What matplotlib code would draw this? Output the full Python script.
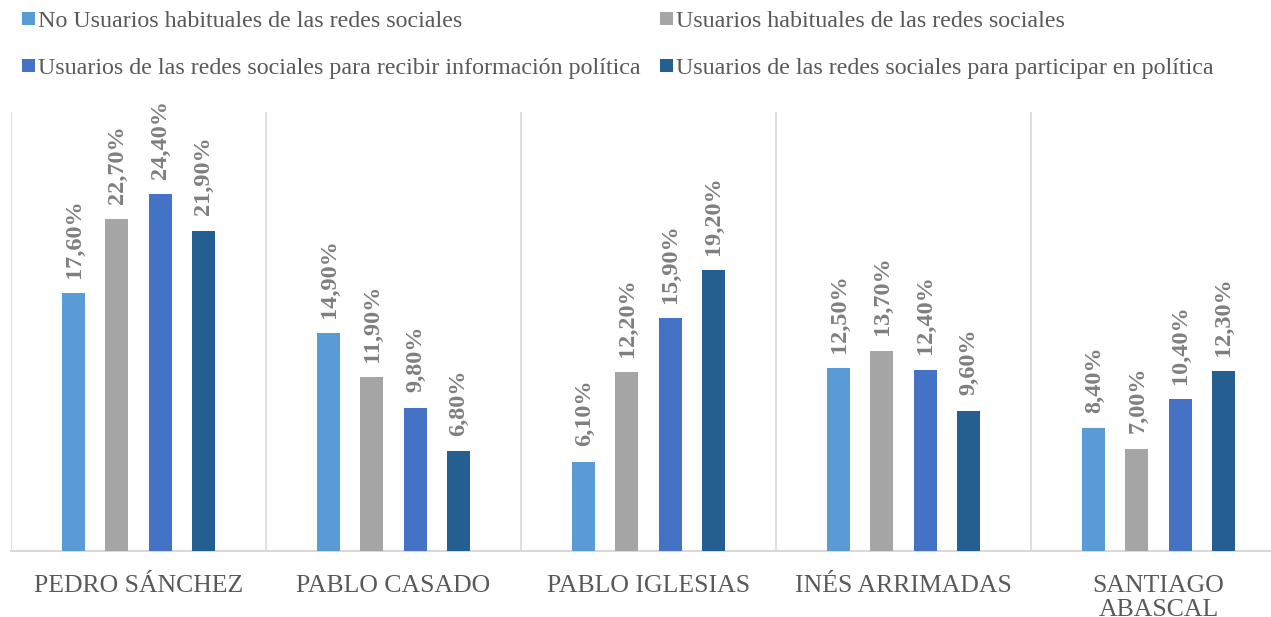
import matplotlib
matplotlib.use("Agg")
import matplotlib.pyplot as plt
import numpy as np
from matplotlib.patches import Patch

categories = ["PEDRO SÁNCHEZ", "PABLO CASADO", "PABLO IGLESIAS", "INÉS ARRIMADAS", "SANTIAGO\nABASCAL"]
series_names = [
    "No Usuarios habituales de las redes sociales",
    "Usuarios habituales de las redes sociales",
    "Usuarios de las redes sociales para recibir información política",
    "Usuarios de las redes sociales para participar en política",
]
no_habituales = [17.6, 14.9, 6.1, 12.5, 8.4]
habituales = [22.7, 11.9, 12.2, 13.7, 7.0]
recibir_info = [24.4, 9.8, 15.9, 12.4, 10.4]
participar = [21.9, 6.8, 19.2, 9.6, 12.3]
series_values = [no_habituales, habituales, recibir_info, participar]
colors = ["#5B9BD5", "#A5A5A5", "#4472C4", "#255E91"]

plt.rcParams['font.family'] = ['Liberation Serif', 'DejaVu Serif']

W, H = 1271, 617
fig = plt.figure(figsize=(W / 100, H / 100), dpi=100)
left_px, right_px = 11, 11 + 5 * 255
bot_px, top_px = 551, 112
ax = fig.add_axes([left_px / W, 1 - bot_px / H, (right_px - left_px) / W, (bot_px - top_px) / H])

x = np.arange(len(categories))
step = 0.169
bw = 0.09
offsets = (np.arange(4) - 1.5) * step
for vals, off, c in zip(series_values, offsets, colors):
    bars = ax.bar(x + off, vals, width=bw, color=c, zorder=3)
    for b, v in zip(bars, vals):
        ax.annotate(f"{v:.2f}%".replace(".", ","),
                    xy=(b.get_x() + b.get_width() / 2, b.get_height()),
                    xytext=(0.5, 11), textcoords="offset points",
                    rotation=90, ha="center", va="bottom",
                    fontsize=17.5, fontweight="bold", color="#7F7F7F")

ax.set_xlim(-0.5, len(categories) - 0.5)
ax.set_ylim(0, 30)
for b in np.arange(len(categories)) - 0.5:
    ax.axvline(b, color="#D9D9D9", lw=1.2, zorder=1)
for s in ["top", "right", "left"]:
    ax.spines[s].set_visible(False)
ax.spines["bottom"].set_color("#D9D9D9")
ax.spines["bottom"].set_linewidth(1.5)
ax.set_yticks([])
ax.set_xticks(x)
ax.set_xticklabels(categories, fontsize=18.5, color="#595959", linespacing=1.12)
ax.tick_params(axis="x", length=0, pad=17)

handles = [Patch(facecolor=c, edgecolor="none") for c in colors]
order = [0, 2, 1, 3]
fig.legend([handles[i] for i in order], [series_names[i] for i in order],
           ncol=2, loc="upper left", bbox_to_anchor=(22 / W, 1 - 11 / H),
           frameon=False, fontsize=17.3, labelcolor="#595959",
           handlelength=0.54, handleheight=0.46, handletextpad=0.12,
           columnspacing=0.8, labelspacing=1.1, borderaxespad=0, borderpad=0)

fig.savefig("out.png", dpi=100)
